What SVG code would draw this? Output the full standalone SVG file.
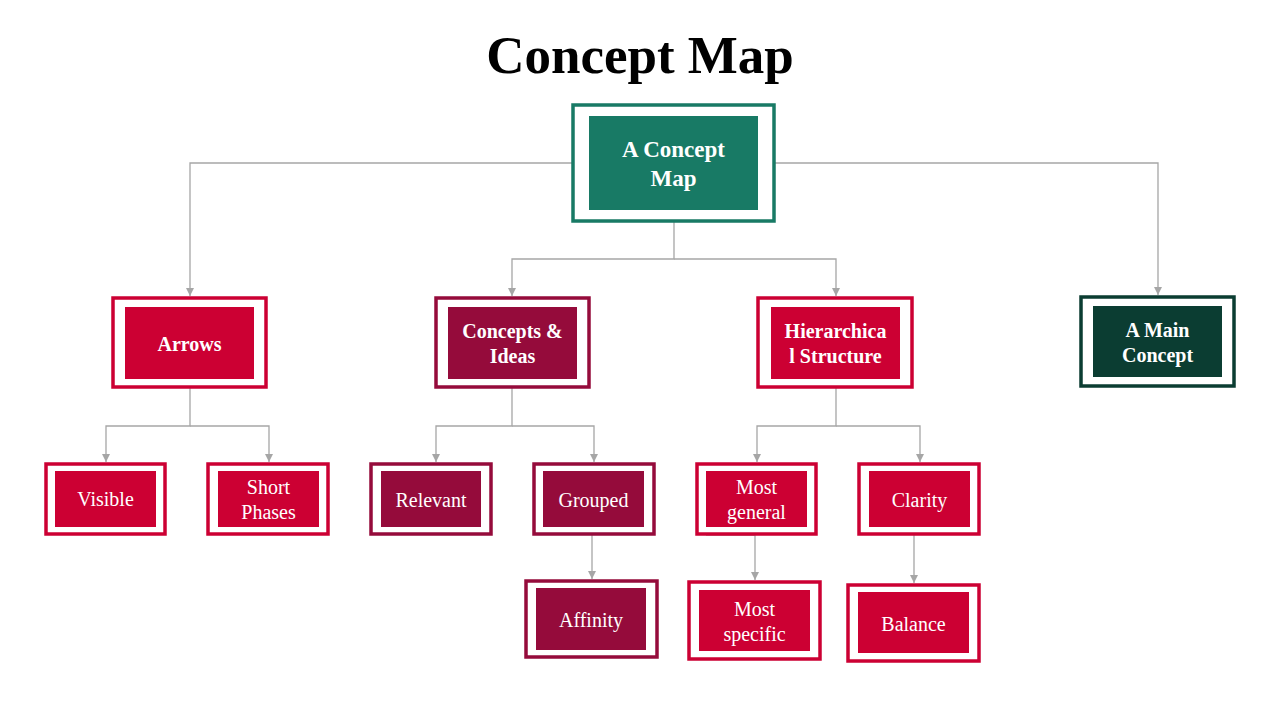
<svg xmlns="http://www.w3.org/2000/svg" width="1280" height="720" viewBox="0 0 1280 720">
<style>
.title{font-family:"Liberation Serif","Times New Roman",serif;font-weight:bold;font-size:53px;fill:#000;text-anchor:middle}
.frame{fill:#fff;stroke-width:3.5}
.t1{font-family:"Liberation Serif","Times New Roman",serif;font-weight:bold;font-size:20px;fill:#fff;text-anchor:middle}
.t0{font-family:"Liberation Serif","Times New Roman",serif;font-weight:bold;font-size:23px;fill:#fff;text-anchor:middle}
.t2{font-family:"Liberation Serif","Times New Roman",serif;font-size:20px;fill:#fff;text-anchor:middle}
.red .frame{stroke:#CC0033}.red .fill{fill:#CC0033}
.plum .frame{stroke:#950B3B}.plum .fill{fill:#950B3B}
.green .frame{stroke:#187A65}.green .fill{fill:#187A65}
.dgreen .frame{stroke:#0B3D32}.dgreen .fill{fill:#0B3D32}
#connectors path{fill:none;stroke:#A6A6A6;stroke-width:1.3}
</style>
<defs>
<marker id="arr" viewBox="0 0 10 10" refX="10" refY="5" markerWidth="8" markerHeight="8" markerUnits="userSpaceOnUse" orient="auto">
<path d="M0,0 L10,5 L0,10 z" fill="#A6A6A6"/>
</marker>
</defs>
<rect width="1280" height="720" fill="#fff"/>
<text class="title" x="640" y="73">Concept Map</text>

<g id="connectors">
<path d="M573,163 H190 V296" marker-end="url(#arr)"/>
<path d="M774,163 H1158 V295" marker-end="url(#arr)"/>
<path d="M674,221 V259 H512 V296" marker-end="url(#arr)"/>
<path d="M674,259 H836 V296" marker-end="url(#arr)"/>
<path d="M190,387 V426 H106 V462" marker-end="url(#arr)"/>
<path d="M190,426 H269 V462" marker-end="url(#arr)"/>
<path d="M512,387 V426 H436 V462" marker-end="url(#arr)"/>
<path d="M512,426 H594 V462" marker-end="url(#arr)"/>
<path d="M592,532 V579" marker-end="url(#arr)"/>
<path d="M836,387 V426 H757 V462" marker-end="url(#arr)"/>
<path d="M836,426 H920 V462" marker-end="url(#arr)"/>
<path d="M706,535 H755 V580" marker-end="url(#arr)"/>
<path d="M920,534 H914 V583" marker-end="url(#arr)"/>
</g>

<g id="node-main" class="green">
<rect class="frame" x="573" y="105" width="201" height="116" stroke-width="4"/>
<rect class="fill" x="589" y="116" width="169" height="94"/>
<text class="t0" x="673.5" y="157">A Concept</text>
<text class="t0" x="673.5" y="186">Map</text>
</g>

<g id="node-arrows" class="red">
<rect class="frame" x="113" y="298" width="153" height="89"/>
<rect class="fill" x="125" y="307" width="129" height="72"/>
<text class="t1" x="189.5" y="351">Arrows</text>
</g>

<g id="node-concepts" class="plum">
<rect class="frame" x="436" y="298" width="153" height="89"/>
<rect class="fill" x="448" y="307" width="129" height="72"/>
<text class="t1" x="512.5" y="338">Concepts &amp;</text>
<text class="t1" x="512.5" y="363">Ideas</text>
</g>

<g id="node-hierarchical" class="red">
<rect class="frame" x="758" y="298" width="154" height="89"/>
<rect class="fill" x="771" y="307" width="129" height="72"/>
<text class="t1" x="835.5" y="338">Hierarchica</text>
<text class="t1" x="835.5" y="363">l Structure</text>
</g>

<g id="node-mainconcept" class="dgreen">
<rect class="frame" x="1081" y="297" width="153" height="89"/>
<rect class="fill" x="1093" y="306" width="129" height="71"/>
<text class="t1" x="1157.5" y="337">A Main</text>
<text class="t1" x="1157.5" y="362">Concept</text>
</g>

<g id="node-visible" class="red">
<rect class="frame" x="46" y="464" width="119" height="70"/>
<rect class="fill" x="55" y="471" width="101" height="56"/>
<text class="t2" x="105.5" y="506">Visible</text>
</g>

<g id="node-short" class="red">
<rect class="frame" x="208" y="464" width="120" height="70"/>
<rect class="fill" x="218" y="471" width="101" height="56"/>
<text class="t2" x="268.5" y="494">Short</text>
<text class="t2" x="268.5" y="519">Phases</text>
</g>

<g id="node-relevant" class="plum">
<rect class="frame" x="371" y="464" width="120" height="70"/>
<rect class="fill" x="381" y="471" width="100" height="56"/>
<text class="t2" x="431" y="507">Relevant</text>
</g>

<g id="node-grouped" class="plum">
<rect class="frame" x="534" y="464" width="120" height="70"/>
<rect class="fill" x="543" y="471" width="101" height="56"/>
<text class="t2" x="593.5" y="507">Grouped</text>
</g>

<g id="node-affinity" class="plum">
<rect class="frame" x="526" y="581" width="131" height="76"/>
<rect class="fill" x="536" y="588" width="110" height="62"/>
<text class="t2" x="591" y="627">Affinity</text>
</g>

<g id="node-mostgeneral" class="red">
<rect class="frame" x="697" y="464" width="119" height="70"/>
<rect class="fill" x="706" y="471" width="101" height="56"/>
<text class="t2" x="756.5" y="494">Most</text>
<text class="t2" x="756.5" y="519">general</text>
</g>

<g id="node-clarity" class="red">
<rect class="frame" x="859" y="464" width="120" height="70"/>
<rect class="fill" x="869" y="471" width="101" height="56"/>
<text class="t2" x="919.5" y="507">Clarity</text>
</g>

<g id="node-mostspecific" class="red">
<rect class="frame" x="689" y="582" width="131" height="77"/>
<rect class="fill" x="699" y="590" width="111" height="61"/>
<text class="t2" x="754.5" y="616">Most</text>
<text class="t2" x="754.5" y="641">specific</text>
</g>

<g id="node-balance" class="red">
<rect class="frame" x="848" y="585" width="131" height="76"/>
<rect class="fill" x="858" y="592" width="111" height="61"/>
<text class="t2" x="913.5" y="631">Balance</text>
</g>
</svg>
